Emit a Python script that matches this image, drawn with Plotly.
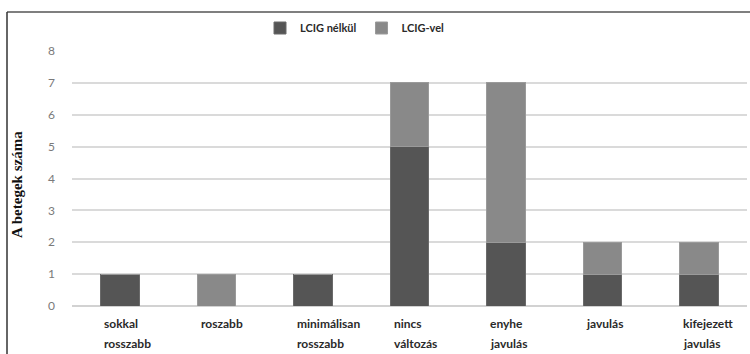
import plotly.graph_objects as go

categories = ["sokkal rosszabb", "roszabb", "minimálisan rosszabb", "nincs változás",
              "enyhe javulás", "javulás", "kifejezett javulás"]
label_lines = [["sokkal", "rosszabb"], ["roszabb"], ["minimálisan", "rosszabb"],
               ["nincs", "változás"], ["enyhe", "javulás"], ["javulás"], ["kifejezett", "javulás"]]
without_lcig = [1, 0, 1, 5, 2, 1, 1]
with_lcig = [0, 1, 0, 2, 5, 1, 1]
series_names = ["LCIG nélkül", "LCIG-vel"]
y_ticks = [0, 1, 2, 3, 4, 5, 6, 7, 8]

W, H = 750, 354
L, R, T, B = 72, 3, 51, 48
pw, ph = W - L - R, H - T - B

def px(xp):
    return (xp - L) / pw

def py(yp):
    return (H - B - yp) / ph

fig = go.Figure()
fig.add_bar(x=categories, y=without_lcig, name=series_names[0],
            marker=dict(color="#555555", line=dict(color="#6a6a6a", width=1)))
fig.add_bar(x=categories, y=with_lcig, name=series_names[1],
            marker=dict(color="#898989", line=dict(color="#9a9a9a", width=1)))

annotations = []
for cat, lines in zip(categories, label_lines):
    for i, ln in enumerate(lines):
        annotations.append(dict(
            x=cat, y=0, xref="x", yref="y", text=ln, showarrow=False,
            xanchor="left", yanchor="middle", xshift=-18, yshift=-17 - 20 * i,
            font=dict(family="Lato", size=12, color="#2a2a2a", weight="bold")))

annotations.append(dict(
    x=px(17), y=py(184), xref="paper", yref="paper", text="<b>A betegek száma</b>",
    showarrow=False, textangle=-90, xanchor="center", yanchor="middle",
    font=dict(family="Liberation Serif", size=15, color="#111111")))

shapes = [
    dict(type="line", xref="paper", yref="paper", x0=px(7), x1=px(750), y0=py(12), y1=py(12),
         line=dict(color="#555555", width=1.5)),
    dict(type="line", xref="paper", yref="paper", x0=px(7), x1=px(7), y0=py(12), y1=py(354),
         line=dict(color="#333333", width=1.5)),
]

fig.update_layout(
    width=W, height=H, margin=dict(l=L, r=R, t=T, b=B),
    barmode="stack", bargap=0.6,
    plot_bgcolor="white", paper_bgcolor="white",
    font=dict(family="Lato", size=11, color="#333333"),
    legend=dict(orientation="h", x=px(355), xanchor="center", y=py(28), yanchor="middle",
                font=dict(family="Lato", size=11, color="#2a2a2a", weight="bold"),
                itemwidth=30, traceorder="normal"),
    xaxis=dict(showticklabels=False, showgrid=False, showline=False, zeroline=False,
               fixedrange=True),
    yaxis=dict(range=[0, 8], tickvals=y_ticks, showgrid=True, gridcolor="#dadada", gridwidth=1.5,
               zeroline=True, zerolinecolor="#d2d2d2", zerolinewidth=1.5, showline=False,
               ticklabelstandoff=16,
               tickfont=dict(family="Lato", size=12, color="#7a7a7a")),
    annotations=annotations, shapes=shapes,
)

fig.write_html("out.html", config={"displayModeBar": False},
               post_script="document.body.style.margin='0';")
